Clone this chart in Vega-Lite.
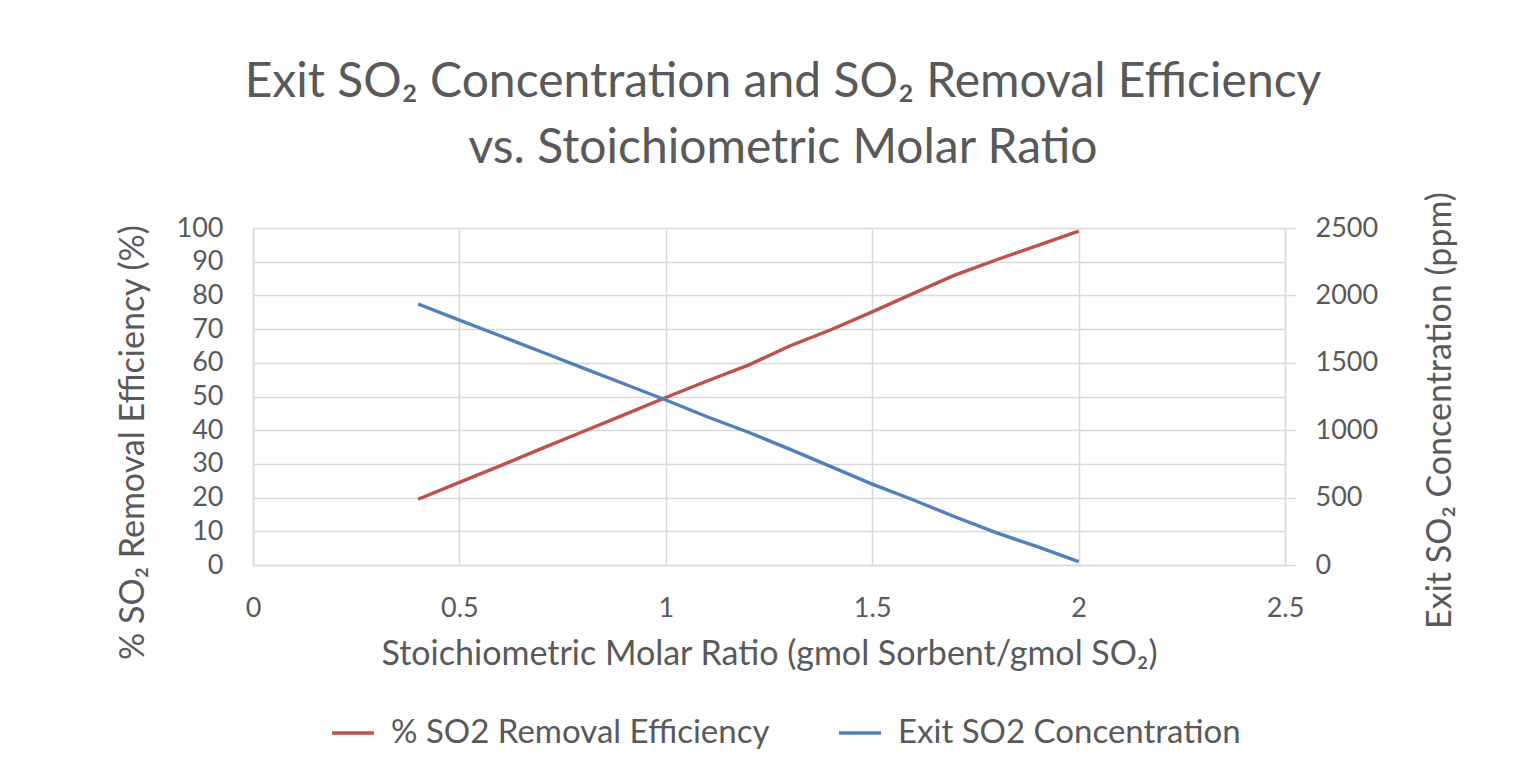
{
  "$schema": "https://vega.github.io/schema/vega-lite/v6.json",
  "width": 1032,
  "height": 337,
  "autosize": {"type": "none"},
  "padding": {"left": 253, "top": 228, "right": 246, "bottom": 213},
  "background": "white",
  "config": {
    "font": "Lato",
    "view": {"stroke": null},
    "axis": {
      "labelFont": "Lato", "labelFontSize": 27, "labelColor": "#595959",
      "titleFont": "Lato", "titleFontSize": 34, "titleColor": "#595959", "titleFontWeight": "normal",
      "gridColor": "#D9D9D9", "gridWidth": 1.5, "domainColor": "#D9D9D9", "domainWidth": 1.5,
      "tickColor": "#D9D9D9", "tickWidth": 1.5
    },
    "legend": {"labelFont": "Lato", "labelFontSize": 33, "labelColor": "#595959", "labelLimit": 0}
  },
  "title": {
    "text": ["Exit SO₂ Concentration and SO₂ Removal Efficiency", "vs. Stoichiometric Molar Ratio"],
    "font": "Lato", "fontSize": 48, "fontWeight": "normal", "color": "#595959",
    "lineHeight": 66, "anchor": "middle", "dx": 14, "offset": 19
  },
  "data": {"values": [
    {"ratio": 0.4, "eff": 19.5, "conc": 1936},
    {"ratio": 0.5, "eff": 24.5, "conc": 1817},
    {"ratio": 0.6, "eff": 29.5, "conc": 1699},
    {"ratio": 0.7, "eff": 34.6, "conc": 1580},
    {"ratio": 0.8, "eff": 39.6, "conc": 1461},
    {"ratio": 0.9, "eff": 44.6, "conc": 1343},
    {"ratio": 1.0, "eff": 49.7, "conc": 1224},
    {"ratio": 1.1, "eff": 54.6, "conc": 1100},
    {"ratio": 1.2, "eff": 59.3, "conc": 985},
    {"ratio": 1.3, "eff": 65.0, "conc": 860},
    {"ratio": 1.4, "eff": 69.8, "conc": 730},
    {"ratio": 1.5, "eff": 75.1, "conc": 600},
    {"ratio": 1.6, "eff": 80.6, "conc": 482},
    {"ratio": 1.7, "eff": 86.0, "conc": 358},
    {"ratio": 1.8, "eff": 90.5, "conc": 240},
    {"ratio": 1.9, "eff": 94.8, "conc": 136},
    {"ratio": 2.0, "eff": 99.1, "conc": 25}
  ]},
  "encoding": {
    "x": {
      "field": "ratio", "type": "quantitative",
      "scale": {"domain": [0, 2.5], "nice": false, "zero": false},
      "axis": {
        "title": "Stoichiometric Molar Ratio (gmol Sorbent/gmol SO₂)",
        "values": [0, 0.5, 1, 1.5, 2, 2.5], "format": "~g", "labelFlush": false,
        "ticks": false, "labelPadding": 30, "titlePadding": 16, "grid": true
      }
    }
  },
  "layer": [
    {
      "mark": {"type": "line", "strokeWidth": 3.4, "clip": false},
      "encoding": {
        "y": {
          "field": "eff", "type": "quantitative",
          "scale": {"domain": [0, 100], "nice": false},
          "axis": {
            "orient": "left", "title": "% SO₂ Removal Efficiency (%)", "titleY": 214,
            "values": [0, 10, 20, 30, 40, 50, 60, 70, 80, 90, 100],
            "ticks": false, "labelPadding": 30, "titlePadding": 26, "grid": true
          }
        },
        "color": {
          "datum": "% SO2 Removal Efficiency", "type": "nominal",
          "scale": {"domain": ["% SO2 Removal Efficiency", "Exit SO2 Concentration"], "range": ["#C0504D", "#4F81BD"]},
          "legend": {
            "title": null, "orient": "none", "direction": "horizontal",
            "legendX": 77, "legendY": 482,
            "symbolType": "stroke", "symbolSize": 1764, "symbolStrokeWidth": 3.5,
            "columnPadding": 62, "labelOffset": 15
          }
        }
      }
    },
    {
      "mark": {"type": "line", "strokeWidth": 3.4, "clip": false},
      "encoding": {
        "y": {
          "field": "conc", "type": "quantitative",
          "scale": {"domain": [0, 2500], "nice": false},
          "axis": {
            "orient": "right", "title": "Exit SO₂ Concentration (ppm)", "titleAngle": -90, "titleBaseline": "top", "titleY": 182,
            "values": [0, 500, 1000, 1500, 2000, 2500], "format": "d",
            "ticks": true, "tickSize": 10, "labelPadding": 20, "titlePadding": 46, "grid": false
          }
        },
        "color": {"datum": "Exit SO2 Concentration", "type": "nominal"}
      }
    }
  ],
  "resolve": {"scale": {"y": "independent"}, "axis": {"y": "independent"}}
}
